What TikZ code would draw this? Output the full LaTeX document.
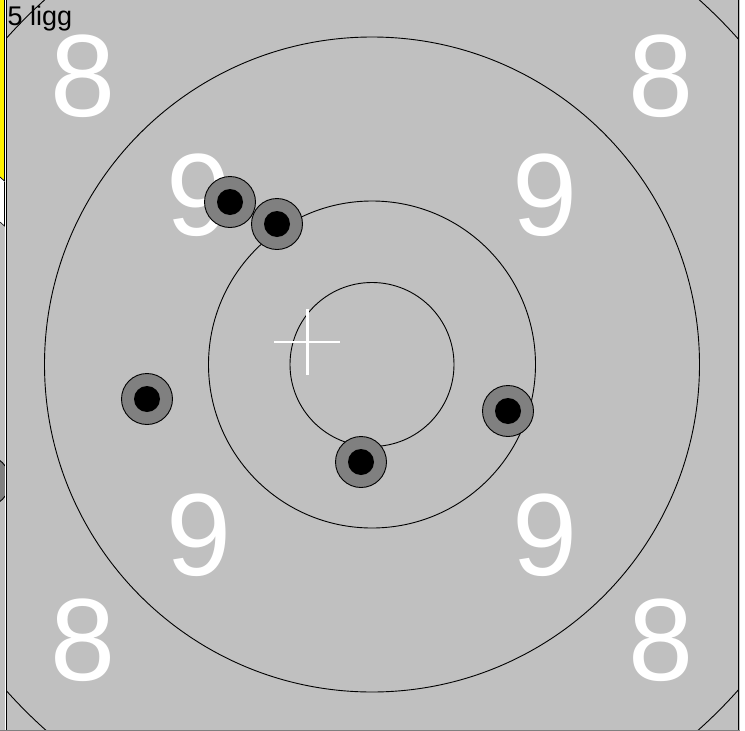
\documentclass[tikz,border=0pt]{standalone}
\usepackage{fontspec}
\setmainfont{Liberation Sans}
\definecolor{tgray}{HTML}{C0C0C0}
\definecolor{shotgray}{HTML}{808080}
\begin{document}
\begin{tikzpicture}[x=1pt,y=-1pt,
  ring/.style={draw=black,line width=0.9pt},
  shotout/.style={draw=black,fill=shotgray,line width=0.9pt},
  shotin/.style={fill=black},
  digit/.style={text=white,inner sep=0pt,font=\fontsize{117}{117}\selectfont},
  label/.style={text=black,inner sep=0pt,anchor=base west,font=\fontsize{27}{27}\selectfont}]
\useasboundingbox (0,0) rectangle (745,731);
% page and strips
\fill[white] (0,0) rectangle (745,731);
\fill[tgray] (0,0) rectangle (740,731);
% partly hidden shot at the left edge
\begin{scope}
\clip (0,0) rectangle (5,731);
\draw[shotout] (-16,481) circle[radius=26];
\end{scope}
\fill[yellow] (0,0) -- (4,0) -- (4,180) -- (0,176) -- cycle;
\draw[black,line width=0.7pt] (4.5,0) -- (4.5,181) -- (0,177);
\fill[white] (0,178) -- (4.5,182) -- (4.5,226) -- (0,222) -- cycle;
\draw[black,line width=0.6pt] (4.5,182) -- (4.5,226) -- (0,222);
\fill[white] (5,0) rectangle (6,731);
% target area
\fill[tgray] (6.5,0) rectangle (738.5,729.5);
\begin{scope}
\clip (6.5,0) rectangle (738.5,729.5);
\coordinate (c) at (372,364.5);
\draw[ring] (c) circle[radius=490];
\draw[ring] (c) circle[radius=327.5];
\draw[ring] (c) circle[radius=163.5];
\draw[ring] (c) circle[radius=82];
\end{scope}
\draw[black,line width=1.2pt] (6.5,0) -- (6.5,731);
\draw[black,line width=1.2pt] (738.8,0) -- (738.8,731);
\draw[shotgray,line width=1pt] (0,730.5) -- (740,730.5);
% digits
\node[digit] (e1) at (83.5,76) {8};
\node[digit] (e2) at (661,76) {8};
\node[digit] (e3) at (83.5,640) {8};
\node[digit] (e4) at (661,640) {8};
\node[digit] (n1) at (199,195) {9};
\node[digit] (n2) at (545,195) {9};
\node[digit] (n3) at (199,535) {9};
\node[digit] (n4) at (545,535) {9};
% aim cross
\coordinate (hx1) at (274,342);
\coordinate (hx2) at (340,342);
\coordinate (vx1) at (307.5,309);
\coordinate (vx2) at (307.5,375);
\draw[white,line width=2.8pt] (hx1) -- (hx2);
\draw[white,line width=2.8pt] (vx1) -- (vx2);
% shots
\foreach \p/\n in {{(230,202)}/s1,{(277,224)}/s2,{(147,399)}/s3,{(361,462)}/s4,{(508,411)}/s5}{
  \draw[shotout] \p circle[radius=25.5];
  \fill[shotin] \p circle[radius=13];
}
% label
\node[label] (lab) at (7.5,25) {5 ligg};
\end{tikzpicture}
\end{document}
